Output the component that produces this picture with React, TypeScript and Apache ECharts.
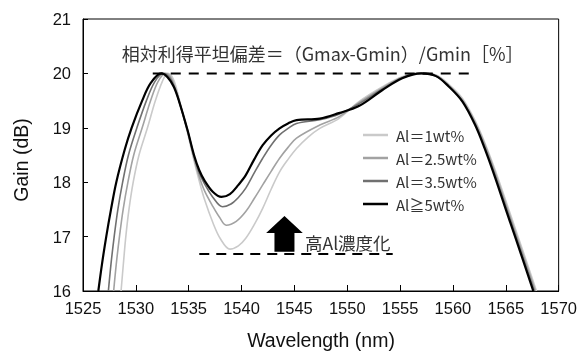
import React, { useEffect, useRef } from "react";
import * as echarts from "echarts";

// Wavelength (nm) / gain (dB)
const wlAl1 = [1528.6, 1528.82, 1529.05, 1529.35, 1529.75, 1530.3, 1531.1, 1531.85, 1532.5, 1533.0, 1533.45, 1533.85, 1534.2, 1534.9, 1535.5, 1536.0, 1536.5, 1537.3, 1538.0, 1538.9, 1539.7, 1540.4, 1541.2, 1542.0, 1542.8, 1543.6, 1544.4, 1545.2, 1546.3, 1547.4, 1549.2, 1551.1, 1553.3, 1555.2, 1557.0, 1558.4, 1559.6, 1560.9, 1562.1, 1563.0, 1564.0, 1565.0, 1566.0, 1567.0, 1567.9];
const gainAl1 = [16.0, 16.5, 17.0, 17.5, 18.0, 18.5, 19.0, 19.5, 19.85, 20.0, 19.93, 19.72, 19.45, 18.9, 18.4, 18.02, 17.68, 17.25, 16.96, 16.77, 16.83, 16.97, 17.22, 17.52, 17.87, 18.19, 18.42, 18.62, 18.83, 18.99, 19.17, 19.48, 19.75, 19.94, 20.0, 19.97, 19.8, 19.54, 19.13, 18.73, 18.22, 17.66, 17.09, 16.52, 16.0];

const wlAl25 = [1527.9, 1528.15, 1528.45, 1528.8, 1529.25, 1529.8, 1530.6, 1531.4, 1532.1, 1532.8, 1533.3, 1533.75, 1534.15, 1534.9, 1535.5, 1536.0, 1536.5, 1537.3, 1537.9, 1538.55, 1539.5, 1540.4, 1541.2, 1542.0, 1542.8, 1543.6, 1544.4, 1545.2, 1547.4, 1549.2, 1551.1, 1553.3, 1555.2, 1557.0, 1558.4, 1559.6, 1560.9, 1562.1, 1563.0, 1564.0, 1565.0, 1566.0, 1567.0, 1567.8];
const gainAl25 = [16.0, 16.5, 17.0, 17.5, 18.0, 18.5, 19.0, 19.5, 19.85, 20.0, 19.93, 19.72, 19.45, 18.93, 18.44, 18.1, 17.84, 17.55, 17.36, 17.21, 17.28, 17.46, 17.7, 17.95, 18.2, 18.44, 18.64, 18.81, 19.05, 19.2, 19.46, 19.73, 19.93, 20.0, 19.96, 19.78, 19.51, 19.1, 18.7, 18.17, 17.6, 17.03, 16.46, 16.0];

const wlAl35 = [1527.4, 1527.65, 1527.95, 1528.3, 1528.75, 1529.3, 1530.1, 1531.0, 1531.8, 1532.6, 1533.2, 1533.7, 1534.15, 1534.9, 1535.5, 1536.0, 1536.5, 1537.3, 1538.2, 1539.0, 1539.7, 1540.4, 1541.2, 1542.0, 1542.8, 1543.6, 1544.4, 1545.2, 1547.4, 1549.2, 1551.1, 1553.3, 1555.2, 1557.0, 1558.4, 1559.6, 1560.9, 1562.1, 1563.0, 1564.0, 1565.0, 1566.0, 1567.0, 1567.7];
const gainAl35 = [16.0, 16.5, 17.0, 17.5, 18.0, 18.5, 19.0, 19.5, 19.85, 20.0, 19.92, 19.72, 19.45, 18.95, 18.48, 18.17, 17.97, 17.72, 17.55, 17.6, 17.72, 17.89, 18.17, 18.44, 18.68, 18.87, 18.99, 19.08, 19.15, 19.25, 19.44, 19.71, 19.92, 20.0, 19.95, 19.76, 19.49, 19.07, 18.65, 18.12, 17.55, 16.98, 16.4, 16.0];

const wlAl5 = [1526.45, 1526.8, 1527.2, 1527.65, 1528.15, 1528.95, 1529.6, 1530.6, 1531.4, 1532.4, 1533.0, 1533.6, 1534.15, 1534.9, 1535.5, 1536.0, 1536.5, 1537.3, 1538.1, 1538.9, 1539.7, 1540.4, 1541.2, 1542.0, 1542.8, 1543.6, 1544.4, 1545.2, 1547.4, 1549.2, 1551.1, 1553.3, 1555.2, 1557.0, 1558.4, 1559.6, 1560.9, 1562.1, 1563.0, 1564.0, 1565.0, 1566.0, 1567.0, 1567.6];
const gainAl5 = [16.0, 16.5, 17.0, 17.5, 18.0, 18.6, 19.0, 19.5, 19.82, 20.0, 19.93, 19.75, 19.45, 18.95, 18.5, 18.22, 18.03, 17.82, 17.73, 17.78, 17.95, 18.13, 18.42, 18.68, 18.86, 18.99, 19.08, 19.14, 19.17, 19.27, 19.4, 19.69, 19.91, 20.0, 19.95, 19.76, 19.48, 19.05, 18.62, 18.08, 17.5, 16.93, 16.35, 16.0];

const seriesNames = ["Al＝1wt%", "Al＝2.5wt%", "Al＝3.5wt%", "Al≧5wt%"];

// Reference (dashed) lines: Gmax and Gmin
const gmaxLineWl = [1531.6, 1562.0];
const gmaxLineGain = [20, 20];
const gminLineWl = [1536.0, 1554.3];
const gminLineGain = [16.68, 16.68];

// Arrow: wavelength, base gain, tip gain
const arrowWl = 1544.06;
const arrowBase = 16.72;
const arrowTip = 17.38;

const titleText = "相対利得平坦偏差＝（Gmax-Gmin）/Gmin［%］";
const arrowText = "高Al濃度化";

const zip = (xs: number[], ys: number[]) => xs.map((x, i) => [x, ys[i]]);

export default function App() {
  const ref = useRef<HTMLDivElement>(null);
  useEffect(() => {
    if (!ref.current) return;
    const chart = echarts.init(ref.current, undefined, { renderer: "svg" });
    const jp = "'Noto Sans CJK JP', sans-serif";
    const latin = "'Liberation Sans', Arial, sans-serif";
    const curve = (name: string, xs: number[], ys: number[], color: string, width: number, z: number) => ({
      name,
      type: "line",
      data: zip(xs, ys),
      smooth: 0.35,
      symbol: "none",
      showSymbol: false,
      lineStyle: { color, width },
      itemStyle: { color },
      z,
    });
    chart.setOption({
      animation: false,
      grid: {
        left: 83,
        right: 20,
        top: 19,
        bottom: 61,
        show: true,
        borderColor: "#000",
        borderWidth: 1,
        backgroundColor: "transparent",
      },
      legend: {
        data: seriesNames,
        orient: "vertical",
        left: 358,
        top: 122,
        icon: "rect",
        itemWidth: 25,
        itemHeight: 2.5,
        itemGap: 7,
        textStyle: { fontSize: 15, color: "#333", fontFamily: jp, padding: [0, 0, 0, 3], lineHeight: 16 },
      },
      xAxis: {
        type: "value",
        min: 1525,
        max: 1570,
        interval: 5,
        axisLine: { show: true, lineStyle: { color: "#000", width: 1 } },
        axisTick: { show: true, inside: true, length: 6, lineStyle: { color: "#000" } },
        axisLabel: {
          fontSize: 16.5,
          color: "#111",
          fontFamily: latin,
          margin: 8,
          formatter: (v: number) => String(v),
        },
        splitLine: { show: false },
      },
      yAxis: {
        type: "value",
        min: 16,
        max: 21,
        interval: 1,
        axisLine: { show: true, lineStyle: { color: "#000", width: 1 } },
        axisTick: { show: true, inside: true, length: 5, lineStyle: { color: "#000" } },
        axisLabel: { fontSize: 16.5, color: "#111", fontFamily: latin, margin: 12 },
        splitLine: { show: false },
      },
      graphic: [
        {
          type: "text",
          x: 121.7,
          y: 52.5,
          style: { text: titleText, fontSize: 18, fill: "#333", fontFamily: jp, verticalAlign: "middle", align: "left" },
        },
        {
          type: "text",
          x: 305,
          y: 242,
          style: { text: arrowText, fontSize: 17.5, fill: "#333", fontFamily: jp, verticalAlign: "middle", align: "left" },
        },
        {
          type: "text",
          x: 321,
          y: 340,
          style: { text: "Wavelength (nm)", fontSize: 19.5, fill: "#111", fontFamily: latin, verticalAlign: "middle", align: "center" },
        },
        {
          type: "text",
          x: 21,
          y: 160,
          rotation: Math.PI / 2,
          style: { text: "Gain (dB)", fontSize: 19.5, fill: "#111", fontFamily: latin, verticalAlign: "middle", align: "center" },
        },
      ],
      series: [
        curve(seriesNames[0], wlAl1, gainAl1, "#cacaca", 1.6, 2),
        curve(seriesNames[1], wlAl25, gainAl25, "#a2a2a2", 1.6, 3),
        curve(seriesNames[2], wlAl35, gainAl35, "#707070", 1.6, 4),
        curve(seriesNames[3], wlAl5, gainAl5, "#000000", 2.2, 5),
        {
          name: "Gmax",
          type: "line",
          data: zip(gmaxLineWl, gmaxLineGain),
          symbol: "none",
          lineStyle: { color: "#000", width: 2, type: [10, 8] },
          z: 6,
        },
        {
          name: "Gmin",
          type: "line",
          data: zip(gminLineWl, gminLineGain),
          symbol: "none",
          lineStyle: { color: "#000", width: 2, type: [10, 7] },
          z: 6,
        },
        {
          name: "arrow",
          type: "custom",
          data: [[arrowWl, arrowBase, arrowTip]],
          encode: { x: 0, y: [1, 2] },
          z: 7,
          renderItem: (params: any, api: any) => {
            const base = api.coord([api.value(0), api.value(1)]);
            const tip = api.coord([api.value(0), api.value(2)]);
            const cx = base[0];
            const headH = 17;
            const headHalf = 18.3;
            const shaftHalf = 10;
            return {
              type: "polygon",
              shape: {
                points: [
                  [cx, tip[1]],
                  [cx + headHalf, tip[1] + headH],
                  [cx + shaftHalf, tip[1] + headH],
                  [cx + shaftHalf, base[1]],
                  [cx - shaftHalf, base[1]],
                  [cx - shaftHalf, tip[1] + headH],
                  [cx - headHalf, tip[1] + headH],
                ],
              },
              style: { fill: "#000" },
            };
          },
        },
      ],
    });
    return () => chart.dispose();
  }, []);
  return <div ref={ref} style={{ position: "fixed", left: 0, top: 0, width: 580, height: 352 }} />;
}
